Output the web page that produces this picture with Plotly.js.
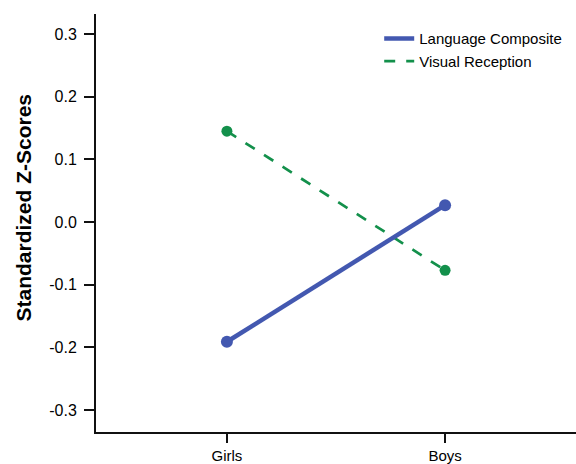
<!DOCTYPE html>
<html>
<head>
<meta charset="utf-8">
<script src="https://cdn.plot.ly/plotly-3.0.1.min.js"></script>
<style>html,body{margin:0;padding:0;background:#fff;}#chart{width:576px;height:464px;}</style>
</head>
<body>
<div id="chart"></div>
<script>
var categories = ["Girls", "Boys"];
var languageComposite = [-0.191, 0.027];
var visualReception = [0.145, -0.077];
var yTickVals = [-0.3, -0.2, -0.1, 0.0, 0.1, 0.2, 0.3];
var yTickText = ["-0.3", "-0.2", "-0.1", "0.0", "0.1", "0.2", "0.3"];
var yTitle = "Standardized Z-Scores";

var blue = "#4358b0";
var green = "#13904b";

var traces = [
  {x: categories, y: visualReception, mode: "lines", name: "Visual Reception",
   line: {color: green, width: 2.7, dash: "11px,11px"}, showlegend: true, legendrank: 2},
  {x: categories, y: visualReception, mode: "markers", showlegend: false,
   marker: {color: green, size: 11}, hoverinfo: "skip"},
  {x: categories, y: languageComposite, mode: "lines", name: "Language Composite",
   line: {color: blue, width: 4.5}, showlegend: true, legendrank: 1},
  {x: categories, y: languageComposite, mode: "markers", showlegend: false,
   marker: {color: blue, size: 12}, hoverinfo: "skip"}
];

var layout = {
  width: 576, height: 464,
  margin: {l: 96, r: 0, t: 14, b: 32},
  paper_bgcolor: "#fff", plot_bgcolor: "#fff",
  font: {family: "Liberation Sans, Arial, sans-serif", size: 15, color: "#000"},
  showlegend: true,
  legend: {x: 0.59, y: 0.98, xanchor: "left", yanchor: "top",
           font: {size: 15, color: "#000"}, bgcolor: "rgba(0,0,0,0)",
           tracegroupgap: 0, itemwidth: 30, traceorder: "normal"},
  xaxis: {type: "category", range: [-0.6, 1.6], showline: true, linecolor: "#111", linewidth: 2,
          ticks: "outside", ticklen: 9, tickwidth: 2, tickcolor: "#111",
          showgrid: false, zeroline: false, fixedrange: true,
          tickfont: {size: 15, color: "#000"}},
  yaxis: {range: [-0.335, 0.332], showline: true, linecolor: "#111", linewidth: 2,
          ticks: "outside", ticklen: 10, tickwidth: 2, tickcolor: "#111",
          tickvals: yTickVals, ticktext: yTickText, ticklabelstandoff: 4,
          showgrid: false, zeroline: false, fixedrange: true,
          tickfont: {size: 16, color: "#000"}},
  annotations: [
    {text: "<b>" + yTitle + "</b>", xref: "paper", yref: "paper", x: -0.15, y: 0.537,
     xanchor: "center", yanchor: "middle", textangle: -90, showarrow: false,
     font: {size: 21, color: "#000"}}
  ]
};

Plotly.newPlot("chart", traces, layout, {displayModeBar: false, staticPlot: true});
</script>
</body>
</html>
